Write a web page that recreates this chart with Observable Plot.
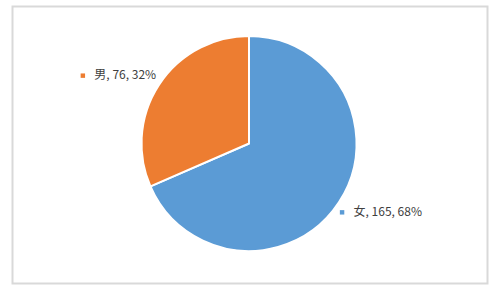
<!DOCTYPE html>
<html><head><meta charset="utf-8">
<script src="https://cdn.jsdelivr.net/npm/d3@7"></script>
<script src="https://cdn.jsdelivr.net/npm/@observablehq/plot@0.6"></script>
<style>body{margin:0;background:#fff}</style>
</head><body><div id="chart"></div>
<script>
const categories = ["女", "男"];
const counts = [165, 76];
const percents = ["68%", "32%"];
const colors = ["#5B9BD5", "#ED7D31"];

const W = 495, H = 291;
const cx = 249, cy = 143.5, R = 107.5;
const FS = 12;
const FONT = `${FS}px 'Noto Sans CJK SC', 'Noto Sans', sans-serif`;
const LABEL_RX = 1.46, LABEL_RY = 1.16;

const ctx = document.createElement("canvas").getContext("2d");
ctx.font = FONT;

const arcs = d3.pie().sort(null).value(d => d)(counts);
const data = categories.map((c, i) => {
  const a = arcs[i];
  const mid = (a.startAngle + a.endAngle) / 2;
  const label = `${c}, ${counts[i]}, ${percents[i]}`;
  const tw = ctx.measureText(label).width;
  const gw = 5 + 9 + tw;
  const lx = Math.sin(mid) * LABEL_RX, ly = Math.cos(mid) * LABEL_RY;
  return {
    category: c, color: colors[i], startAngle: a.startAngle, endAngle: a.endAngle,
    padAngle: 0, label,
    tx: lx + (-gw / 2 + 14) / R,
    mx: lx + (-gw / 2 + 2.5) / R,
    ly
  };
});

function pieMark(index, scales) {
  const x0 = scales.x(0), y0 = scales.y(0), r = scales.x(1) - scales.x(0);
  const arc = d3.arc().innerRadius(0).outerRadius(r);
  const g = d3.create("svg:g").attr("transform", `translate(${x0},${y0})`);
  g.selectAll("path").data(data).join("path")
    .attr("d", d => arc(d))
    .attr("fill", d => d.color)
    .attr("stroke", "#fff")
    .attr("stroke-width", 2)
    .attr("stroke-linejoin", "round");
  return g.node();
}

const chart = Plot.plot({
  width: W, height: H,
  marginLeft: 12, marginRight: 8, marginTop: 6, marginBottom: 8,
  style: {background: "#fff", fontFamily: "'Noto Sans CJK SC', 'Noto Sans', sans-serif"},
  x: {domain: [-1, 1], range: [cx - R, cx + R], axis: null},
  y: {domain: [-1, 1], range: [cy + R, cy - R], axis: null},
  marks: [
    Plot.frame({stroke: "#d9d9d9", strokeWidth: 2}),
    pieMark,
    Plot.dot(data, {x: "mx", y: "ly", symbol: "square", r: 2.5, fill: "color", stroke: null}),
    Plot.text(data, {x: "tx", y: "ly", text: "label", textAnchor: "start", fill: "#404040", fontSize: FS})
  ]
});
document.getElementById("chart").appendChild(chart);
</script>
</body></html>
